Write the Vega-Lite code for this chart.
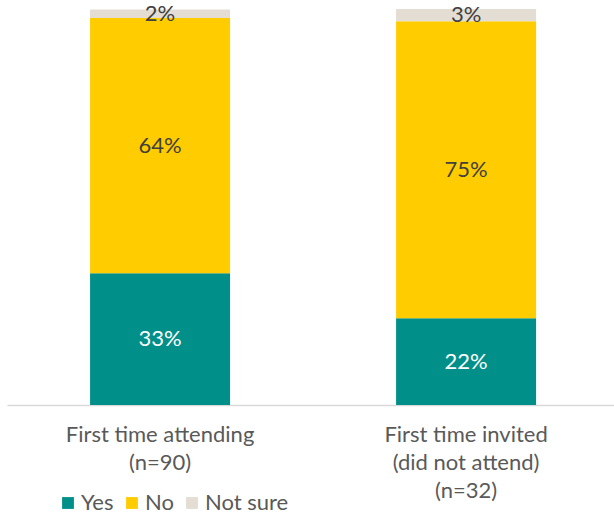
{
  "$schema": "https://vega.github.io/schema/vega-lite/v6.json",
  "width": 607,
  "height": 396,
  "autosize": {"type": "none"},
  "padding": {"left": 7, "top": 9, "right": 0, "bottom": 109},
  "background": "white",
  "config": {"view": {"stroke": null}, "font": "Lato"},
  "data": {
    "values": [
      {"group": "First time attending|(n=90)", "response": "Yes", "ord": 1, "pct": 0.333},
      {"group": "First time attending|(n=90)", "response": "No", "ord": 2, "pct": 0.644},
      {"group": "First time attending|(n=90)", "response": "Not sure", "ord": 3, "pct": 0.022},
      {"group": "First time invited|(did not attend)|(n=32)", "response": "Yes", "ord": 1, "pct": 0.219},
      {"group": "First time invited|(did not attend)|(n=32)", "response": "No", "ord": 2, "pct": 0.75},
      {"group": "First time invited|(did not attend)|(n=32)", "response": "Not sure", "ord": 3, "pct": 0.031}
    ]
  },
  "transform": [
    {"stack": "pct", "groupby": ["group"], "sort": [{"field": "ord", "order": "ascending"}], "as": ["y0", "y1"]}
  ],
  "encoding": {
    "x": {
      "field": "group",
      "type": "nominal",
      "sort": null,
      "scale": {"paddingInner": 0.5425, "paddingOuter": 0.263, "align": 0.516},
      "axis": {
        "title": null,
        "labelAngle": 0,
        "labelExpr": "split(datum.value, '|')",
        "labelFont": "Lato",
        "labelFontSize": 22,
        "labelColor": "#595959",
        "labelLineHeight": 28,
        "labelPadding": 19,
        "labelLimit": 400,
        "ticks": false,
        "domainColor": "#D9D9D9",
        "domainWidth": 1.5,
        "labelBaseline": "top"
      }
    }
  },
  "layer": [
    {
      "mark": {"type": "bar"},
      "encoding": {
        "y": {"field": "y0", "type": "quantitative", "scale": {"domain": [0, 1]}, "axis": null},
        "y2": {"field": "y1"},
        "color": {
          "field": "response",
          "type": "nominal",
          "sort": ["Yes", "No", "Not sure"],
          "scale": {"domain": ["Yes", "No", "Not sure"], "range": ["#009089", "#FFCC00", "#E3DDD3"]},
          "legend": {
            "title": null,
            "orient": "none",
            "direction": "horizontal",
            "legendX": 50,
            "legendY": 483,
            "symbolType": "square",
            "symbolSize": 140,
            "symbolStrokeWidth": 0,
            "symbolOpacity": 1,
            "labelFont": "Lato",
            "labelFontSize": 22,
            "labelColor": "#595959",
            "labelOffset": 2,
            "columnPadding": 7
          }
        }
      }
    },
    {
      "transform": [{"fold": ["y0", "y1"], "as": ["edge", "yv"]}],
      "mark": {"type": "text", "font": "Lato", "fontSize": 22, "baseline": "middle"},
      "encoding": {
        "y": {"aggregate": "mean", "field": "yv", "type": "quantitative", "scale": {"domain": [0, 1]}},
        "detail": {"field": "response"},
        "text": {"field": "pct", "type": "quantitative", "format": ".0%"},
        "color": {
          "condition": {"test": "datum.response === 'Yes'", "value": "white"},
          "value": "#404040"
        }
      }
    }
  ]
}
